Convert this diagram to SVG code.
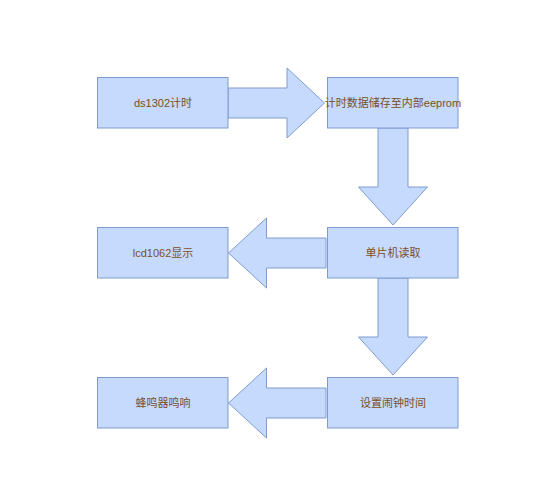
<svg xmlns="http://www.w3.org/2000/svg" width="541" height="499" viewBox="0 0 541 499">
<style>
.box{fill:#c6dafd;stroke:#7f9bce;stroke-width:1}
.arr{fill:#c6dafd;stroke:#7f9bce;stroke-width:1;stroke-linejoin:miter}
.lbl{font-family:"Liberation Sans","Noto Sans CJK SC",sans-serif;font-size:11px;fill:#7a4f1e;text-anchor:middle;dominant-baseline:central}
</style>
<rect width="541" height="499" fill="#ffffff"/>
<g id="connectors">
<path class="arr" d="M228,88 L287,88 L287,68 L324.5,103 L287,138 L287,118 L228,118 Z"/>
<path class="arr" d="M378,128 L408,128 L408,187 L427.5,187 L393,225 L358.5,187 L378,187 Z"/>
<path class="arr" d="M326,238 L266.5,238 L266.5,218 L228.5,253 L266.5,288 L266.5,268 L326,268 Z"/>
<path class="arr" d="M378,278 L408,278 L408,337 L427.5,337 L393,375 L358.5,337 L378,337 Z"/>
<path class="arr" d="M326,388 L266.5,388 L266.5,368 L228.5,403 L266.5,438 L266.5,418 L326,418 Z"/>
</g>
<g id="n1"><rect class="box" x="97.5" y="77.5" width="130.5" height="50.5"/><text class="lbl" x="163" y="103">ds1302计时</text></g>
<g id="n2"><rect class="box" x="327.5" y="77.5" width="130.5" height="50.5"/><text class="lbl" x="393" y="103">计时数据储存至内部eeprom</text></g>
<g id="n3"><rect class="box" x="327.5" y="227.5" width="130.5" height="50.5"/><text class="lbl" x="393" y="253">单片机读取</text></g>
<g id="n4"><rect class="box" x="97.5" y="227.5" width="130.5" height="50.5"/><text class="lbl" x="163" y="253">lcd1062显示</text></g>
<g id="n5"><rect class="box" x="327.5" y="377.5" width="130.5" height="50.5"/><text class="lbl" x="393" y="403">设置闹钟时间</text></g>
<g id="n6"><rect class="box" x="97.5" y="377.5" width="130.5" height="50.5"/><text class="lbl" x="163" y="403">蜂鸣器鸣响</text></g>
</svg>
